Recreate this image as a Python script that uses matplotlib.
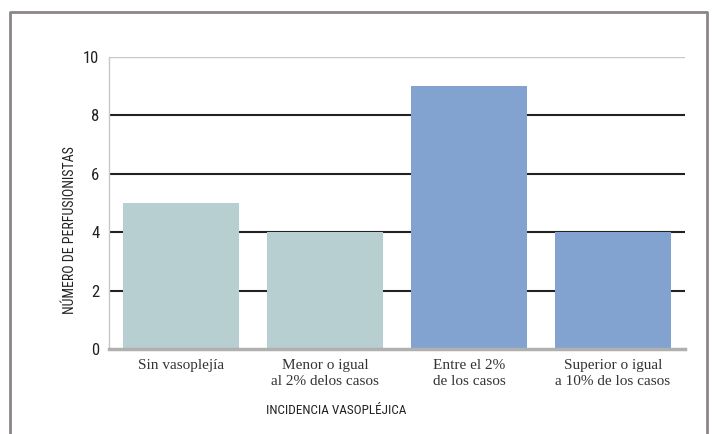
import matplotlib
matplotlib.use("Agg")
import matplotlib.pyplot as plt
from matplotlib.lines import Line2D

# Data
categories = ["Sin vasoplejía", "Menor o igual\nal 2% delos casos",
              "Entre el 2%\nde los casos", "Superior o igual\na 10% de los casos"]
values = [5, 4, 9, 4]
bar_colors = ["#b7cfd0", "#b7cfd0", "#82a3cf", "#82a3cf"]
yticks = [0, 2, 4, 6, 8, 10]

narrow = ["Roboto Condensed", "Roboto", "DejaVu Sans"]
serif = ["Liberation Serif", "DejaVu Serif"]

fig = plt.figure(figsize=(7.12, 4.34), dpi=100)
ax = fig.add_axes([109 / 712, 85 / 434, 576 / 712, 292 / 434])

# Horizontal grid lines: dark for inner values, light on top
for v in yticks[1:-1]:
    ax.axhline(v, color="#222222", lw=1.5, zorder=1)
ax.axhline(10, color="#c8c8c8", lw=1.0, zorder=1)

x = range(len(categories))
ax.bar(x, values, width=0.806, color=bar_colors, zorder=2)

ax.set_xlim(-0.5, 3.5)
ax.set_ylim(0, 10)

for s in ["top", "right"]:
    ax.spines[s].set_visible(False)
ax.spines["left"].set_color("#c8c8c8")
ax.spines["left"].set_linewidth(1.0)
ax.spines["bottom"].set_color("#b0b0b0")
ax.spines["bottom"].set_linewidth(2.5)
ax.spines["bottom"].set_zorder(3)

ax.set_yticks(yticks)
ax.set_yticklabels([str(t) for t in yticks], family=narrow, fontsize=12, color="#222222")
ax.tick_params(axis="y", length=0, pad=7)
ax.set_xticks(list(x))
ax.set_xticklabels(categories, family=serif, fontsize=11, color="#333333", linespacing=1.35)
ax.tick_params(axis="x", length=0, pad=7)

fig.text(70 / 712, 1 - 230 / 434, "NÚMERO DE PERFUSIONISTAS", rotation=90,
         ha="center", va="center", family=narrow, fontsize=10, color="#222222")
fig.text(336 / 712, 1 - 411 / 434, "INCIDENCIA VASOPLÉJICA", ha="center", va="center",
         family=narrow, fontsize=9.5, color="#222222")

# Outer frame (open at the bottom)
frame_x = [10 / 712, 10 / 712, 707 / 712, 707 / 712]
frame_y = [0, 1 - 12 / 434, 1 - 12 / 434, 0]
fig.add_artist(Line2D(frame_x, frame_y, transform=fig.transFigure,
                      color="#8b8587", lw=2.0))

fig.savefig("out.png", dpi=100)
